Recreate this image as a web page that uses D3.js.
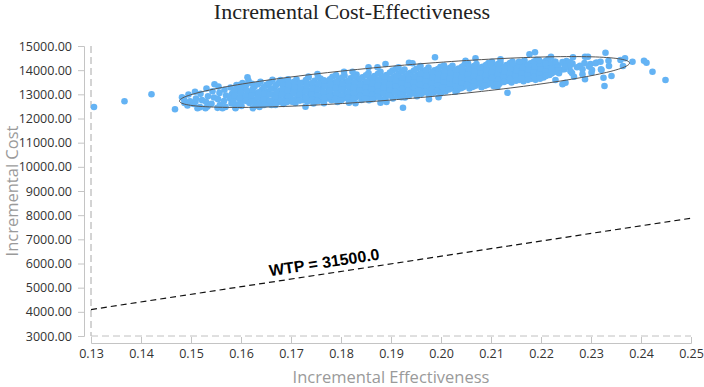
<!DOCTYPE html>
<html>
<head>
<meta charset="utf-8">
<script src="https://cdn.jsdelivr.net/npm/d3@7"></script>
<style>
  body { margin: 0; background: #fff; }
  svg { display: block; }
</style>
</head>
<body>
<div class="graph"></div>
<script>
// tick values
const xTicks = [0.13, 0.14, 0.15, 0.16, 0.17, 0.18, 0.19, 0.20, 0.21, 0.22, 0.23, 0.24, 0.25]
const yTicks = [3000, 4000, 5000, 6000, 7000, 8000, 9000, 10000, 11000, 12000, 13000, 14000, 15000]

const wtp = 31500

// confidence ellipse (data units)
const ellipseCenter = [0.1927, 13510]
const ellipseMajor = [0.0450, 786]
const ellipseMinorCost = 700

// dense part of the cloud
const corePoints = [
  [0.1482,12880],[0.1487,12640],[0.1495,12990],[0.1498,12710],[0.1493,12540],
  [0.1510,12830],[0.1505,12600],[0.1519,13020],[0.1522,12760],[0.1518,12470],
  [0.1531,13240],[0.1534,12920],[0.1530,12690],[0.1533,12500],[0.1543,13130],[0.1546,12870],[0.1541,12610],
  [0.1555,13320],[0.1557,13060],[0.1554,12800],[0.1558,12560],[0.1553,12440],
  [0.1567,13190],[0.1570,12950],[0.1566,12720],[0.1569,12480],[0.1579,13280],[0.1582,13020],[0.1578,12830],[0.1581,12620],
  [0.1591,13380],[0.1594,13140],[0.1590,12890],[0.1593,12560],[0.1589,12460],
  [0.1603,13470],[0.1606,13230],[0.1602,12980],[0.1605,12750],[0.1601,12520],
  [0.1615,13560],[0.1618,13090],[0.1614,12860],[0.1617,12640],[0.1627,13310],[0.1630,13040],[0.1626,12780],[0.1629,12530],
  [0.1639,13520],[0.1642,13190],[0.1638,12940],[0.1641,12700],[0.1637,12480],
  [0.1651,13390],[0.1654,13110],[0.1650,12850],[0.1653,12610],
  [0.1663,13600],[0.1666,13250],[0.1662,13000],[0.1665,12760],[0.1661,12560],
  [0.1675,13470],[0.1678,13160],[0.1674,12920],[0.1677,12680],
  [0.1687,13540],[0.1690,13300],[0.1686,13060],[0.1689,12820],[0.1685,12600],
  [0.1699,13420],[0.1702,13190],[0.1698,12950],[0.1701,12710],
  [0.1711,13620],[0.1714,13340],[0.1710,13100],[0.1713,12860],[0.1709,12640],
  [0.1723,13480],[0.1726,13230],[0.1722,12990],[0.1725,12760],
  [0.1735,13700],[0.1738,13420],[0.1734,13170],[0.1737,12930],[0.1733,12700],
  [0.1747,13560],[0.1750,13310],[0.1746,13070],[0.1749,12830],[0.1745,12620],
  [0.1759,13650],[0.1762,13400],[0.1758,13200],[0.1761,12960],[0.1757,12740],
  [0.1771,13520],[0.1774,13280],[0.1770,13050],[0.1773,12830],
  [0.1783,13730],[0.1786,13470],[0.1782,13230],[0.1785,12990],[0.1781,12760],
  [0.1795,13610],[0.1798,13370],[0.1794,13130],[0.1797,12890],[0.1793,12680],
  [0.1807,13780],[0.1810,13520],[0.1806,13280],[0.1809,13050],[0.1805,12830],
  [0.1819,13660],[0.1822,13420],[0.1818,13190],[0.1821,12950],[0.1817,12720],
  [0.1831,13820],[0.1834,13570],[0.1830,13330],[0.1833,13100],[0.1829,12870],
  [0.1843,13710],[0.1846,13460],[0.1842,13230],[0.1845,12990],[0.1841,12770],
  [0.1855,13880],[0.1858,13620],[0.1854,13380],[0.1857,13150],[0.1853,12920],[0.1856,12760],
  [0.1867,13760],[0.1870,13520],[0.1866,13290],[0.1869,13060],[0.1865,12840],
  [0.1879,13930],[0.1882,13670],[0.1878,13430],[0.1881,13200],[0.1877,12970],[0.1880,12780],
  [0.1891,13800],[0.1894,13560],[0.1890,13330],[0.1893,13100],[0.1889,12880],
  [0.1903,13980],[0.1906,13720],[0.1902,13480],[0.1905,13250],[0.1901,13020],[0.1904,12830],
  [0.1915,13850],[0.1918,13610],[0.1914,13380],[0.1917,13150],[0.1913,12930],
  [0.1927,14030],[0.1930,13760],[0.1926,13520],[0.1929,13290],[0.1925,13060],[0.1928,12870],
  [0.1939,13890],[0.1942,13650],[0.1938,13420],[0.1941,13190],[0.1937,12970],
  [0.1951,14060],[0.1954,13800],[0.1950,13560],[0.1953,13330],[0.1949,13100],[0.1952,12920],
  [0.1963,13940],[0.1966,13700],[0.1962,13470],[0.1965,13240],[0.1961,13020],
  [0.1975,14110],[0.1978,13850],[0.1974,13610],[0.1977,13380],[0.1973,13150],[0.1976,12970],
  [0.1987,13990],[0.1990,13750],[0.1986,13520],[0.1989,13290],[0.1985,13070],
  [0.1999,14140],[0.2002,13890],[0.1998,13660],[0.2001,13430],[0.1997,13210],[0.2000,13040],
  [0.2011,14030],[0.2014,13800],[0.2010,13570],[0.2013,13340],[0.2009,13120],
  [0.2023,14180],[0.2026,13930],[0.2022,13700],[0.2025,13470],[0.2021,13250],
  [0.2035,14070],[0.2038,13840],[0.2034,13610],[0.2037,13390],[0.2033,13180],
  [0.2047,14220],[0.2050,13970],[0.2046,13750],[0.2049,13520],[0.2045,13300],
  [0.2059,14100],[0.2062,13880],[0.2058,13660],[0.2061,13440],[0.2057,13240],
  [0.2071,14250],[0.2074,14010],[0.2070,13790],[0.2073,13570],[0.2069,13360],
  [0.2083,14140],[0.2086,13920],[0.2082,13700],[0.2085,13480],[0.2081,13290],
  [0.2095,14290],[0.2098,14040],[0.2094,13820],[0.2097,13600],[0.2093,13400],
  [0.2107,14170],[0.2110,13950],[0.2106,13730],[0.2109,13520],[0.2105,13350],
  [0.2119,14320],[0.2122,14080],[0.2118,13860],[0.2121,13640],[0.2117,13440],
  [0.2131,14210],[0.2134,13990],[0.2130,13770],[0.2133,13560],
  [0.2143,14360],[0.2146,14110],[0.2142,13890],[0.2145,13680],[0.2141,13490],
  [0.2155,14240],[0.2158,14020],[0.2154,13810],[0.2157,13600],
  [0.2167,14400],[0.2170,14150],[0.2166,13930],[0.2169,13720],[0.2165,13540],
  [0.2179,14280],[0.2182,14060],[0.2178,13850],[0.2181,13650],
  [0.2191,14430],[0.2194,14190],[0.2190,13970],[0.2193,13770],[0.2189,13600],
  [0.2203,14320],[0.2206,14100],[0.2202,13890],[0.2205,13700],
  [0.2215,14460],[0.2218,14230],[0.2214,14010],[0.2217,13800],
  [0.2227,14350],[0.2230,14130],[0.2226,13920],
  [0.2242,14030],[0.2251,14380],[0.2254,14150],[0.2263,14270],[0.2262,13880],
  [0.2278,14180],[0.2287,14290],[0.2302,14010],[0.2311,14320]
]

// more points filling between the columns above
const fillPoints = [
  [0.1586,13160],[0.1587,12940],[0.1585,12700],
  [0.1598,13290],[0.1599,13060],[0.1597,12820],[0.1598,12620],
  [0.1610,13380],[0.1611,13170],[0.1609,12930],[0.1610,12730],
  [0.1622,13440],[0.1623,13200],[0.1621,12950],[0.1622,12700],
  [0.1634,13420],[0.1635,13080],[0.1633,12860],[0.1634,12620],
  [0.1646,13300],[0.1647,13030],[0.1645,12780],[0.1646,12560],
  [0.1658,13490],[0.1659,13240],[0.1657,12990],[0.1658,12730],
  [0.1670,13380],[0.1671,13100],[0.1669,12850],[0.1670,12640],
  [0.1682,13420],[0.1683,13190],[0.1681,12980],[0.1682,12740],
  [0.1694,13620],[0.1695,13380],[0.1693,13140],[0.1694,12890],[0.1692,12680],
  [0.1706,13520],[0.1707,13290],[0.1705,13060],[0.1706,12790],
  [0.1718,13470],[0.1719,13220],[0.1717,12980],[0.1718,12740],
  [0.1730,13590],[0.1731,13350],[0.1729,13110],[0.1730,12870],
  [0.1742,13470],[0.1743,13240],[0.1741,13000],[0.1742,12770],
  [0.1754,13720],[0.1755,13450],[0.1753,13180],[0.1754,12950],[0.1752,12720],
  [0.1766,13580],[0.1767,13330],[0.1765,13090],[0.1766,12860],
  [0.1778,13620],[0.1779,13390],[0.1777,13150],[0.1778,12920],
  [0.1790,13800],[0.1791,13520],[0.1789,13260],[0.1790,13020],[0.1788,12800],
  [0.1802,13690],[0.1803,13450],[0.1801,13200],[0.1802,12960],[0.1800,12740],
  [0.1814,13550],[0.1815,13310],[0.1813,13070],[0.1814,12850],
  [0.1826,13750],[0.1827,13500],[0.1825,13270],[0.1826,13040],[0.1824,12800],
  [0.1838,13640],[0.1839,13400],[0.1837,13160],[0.1838,12930],
  [0.1850,13790],[0.1851,13530],[0.1849,13290],[0.1850,13050],[0.1848,12830],
  [0.1862,13680],[0.1863,13440],[0.1861,13210],[0.1862,12970],
  [0.1874,13850],[0.1875,13590],[0.1873,13350],[0.1874,13110],[0.1872,12900],
  [0.1886,13740],[0.1887,13500],[0.1885,13270],[0.1886,13030],
  [0.1898,13900],[0.1899,13640],[0.1897,13400],[0.1898,13170],[0.1896,12950],
  [0.1910,14060],[0.1911,13780],[0.1909,13550],[0.1910,13320],[0.1908,13090],
  [0.1922,13940],[0.1923,13690],[0.1921,13450],[0.1922,13220],[0.1920,13000],
  [0.1934,13830],[0.1935,13600],[0.1933,13370],[0.1934,13140],
  [0.1946,13980],[0.1947,13730],[0.1945,13490],[0.1946,13260],[0.1944,13040],
  [0.1958,14120],[0.1959,13860],[0.1957,13620],[0.1958,13390],[0.1956,13160],
  [0.1970,14000],[0.1971,13770],[0.1969,13530],[0.1970,13300],[0.1968,13090],
  [0.1982,13910],[0.1983,13680],[0.1981,13450],[0.1982,13220],
  [0.1994,14050],[0.1995,13820],[0.1993,13590],[0.1994,13360],[0.1992,13140],
  [0.2006,14190],[0.2007,13960],[0.2005,13730],[0.2006,13500],[0.2004,13280],
  [0.2018,14100],[0.2019,13870],[0.2017,13640],[0.2018,13420],[0.2016,13200],
  [0.2030,14000],[0.2031,13780],[0.2029,13560],[0.2030,13330],
  [0.2042,14140],[0.2043,13910],[0.2041,13680],[0.2042,13460],[0.2040,13250],
  [0.2054,14280],[0.2055,14040],[0.2053,13820],[0.2054,13600],[0.2052,13380],
  [0.2066,14170],[0.2067,13950],[0.2065,13730],[0.2066,13510],[0.2064,13310],
  [0.2078,14090],[0.2079,13870],[0.2077,13650],[0.2078,13440],
  [0.2090,14210],[0.2091,13990],[0.2089,13770],[0.2090,13550],[0.2088,13360],
  [0.2102,14350],[0.2103,14110],[0.2101,13890],[0.2102,13670],[0.2100,13460],
  [0.2114,14250],[0.2115,14020],[0.2113,13800],[0.2114,13590],[0.2112,13400],
  [0.2126,14130],[0.2127,13920],[0.2125,13710],[0.2126,13510],
  [0.2138,14290],[0.2139,14060],[0.2137,13840],[0.2138,13630],
  [0.2150,14180],[0.2151,13960],[0.2149,13750],[0.2150,13560],
  [0.2162,14330],[0.2163,14090],[0.2161,13870],[0.2162,13660],
  [0.2174,14220],[0.2175,14000],[0.2173,13790],[0.2174,13600],
  [0.2186,14360],[0.2187,14130],[0.2185,13910],[0.2186,13720],
  [0.2198,14250],[0.2199,14040],[0.2197,13830],[0.2198,13650],
  [0.2210,14390],[0.2211,14160],[0.2209,13950],[0.2210,13760],
  [0.2222,14280],[0.2223,14070],[0.2221,13860],
  [0.2234,14200],[0.2235,13990],[0.2246,14270],[0.2247,14040],[0.2258,14330],[0.2259,13960]
]

// scattered points near and outside the edge
const edgePoints = [
  [0.1306,12476],[0.1367,12712],[0.1421,13002],[0.1468,12381],[0.1508,13109],[0.1547,13415],
  [0.1613,13705],[0.1486,12795],[0.1509,12695],[0.1513,12422],[0.1529,12422],[0.1563,12422],
  [0.1589,12422],[0.1596,13386],[0.1624,12422],[0.1669,12559],[0.1729,12489],[0.1766,12629],
  [0.1703,12695],[0.1753,13842],[0.1806,13937],[0.1735,13731],[0.1679,13593],[0.1656,13457],
  [0.1816,12654],[0.1829,12629],[0.1863,12795],[0.1879,12654],[0.1891,12683],[0.1921,12877],
  [0.1924,12447],[0.1976,12795],[0.1995,12877],[0.1988,14533],[0.1936,14309],[0.1943,14285],
  [0.1889,14255],[0.1873,14119],[0.1855,14119],[0.1823,13937],[0.1915,14119],[0.1959,14173],
  [0.2177,14657],[0.2188,14740],[0.2119,14450],[0.2069,14491],[0.2049,14392],[0.2133,13068],
  [0.2113,13316],[0.2029,13109],[0.2196,14421],[0.2209,14284],[0.2156,14351],[0.2143,14284],
  [0.2099,14284],[0.2220,14558],[0.2229,14351],[0.2243,14338],[0.2249,14144],[0.2259,14214],
  [0.2264,14533],[0.2272,14119],[0.2283,14036],[0.2288,14558],[0.2294,14558],[0.2299,14255],
  [0.2309,14285],[0.2319,14351],[0.2329,14723],[0.2335,14392],[0.2321,14007],[0.2301,13896],
  [0.2283,13829],[0.2266,13730],[0.2249,13482],[0.2243,13416],[0.2229,13593],[0.2221,14007],
  [0.2236,13871],[0.2296,14147],[0.2288,13622],[0.2325,13689],[0.2327,13345],[0.2341,13759],
  [0.2359,14421],[0.2368,14491],[0.2364,14173],[0.2383,14351],[0.2406,14392],[0.2411,14309],
  [0.2423,13937],[0.2449,13593],[0.2320,14036],[0.2336,14173]
]

const width = 704
const height = 387
const margin = ({top: 46, right: 13, bottom: 51, left: 91})

const x = d3.scaleLinear()
  .domain([0.13, 0.25])
  .range([margin.left, width - margin.right])

const y = d3.scaleLinear()
  .domain([3000, 15000])
  .range([height - margin.bottom, margin.top])

const svg = d3.select(".graph").append("svg")
  .attr("width", width)
  .attr("height", height)

const tickFont = "'Open Sans', 'Noto Sans', sans-serif"

// title
svg.append("text")
  .attr("x", width / 2)
  .attr("y", 19)
  .attr("text-anchor", "middle")
  .attr("font-family", "'Liberation Serif', 'Times New Roman', serif")
  .attr("font-size", 22)
  .attr("fill", "#222")
  .text("Incremental Cost-Effectiveness")

// y axis, set a bit left of the plot
const yAxis = g => g
  .attr("transform", `translate(${margin.left - 7},0)`)
  .call(d3.axisLeft(y).tickValues(yTicks).tickFormat(d3.format(".2f")).tickSizeOuter(0).tickSize(6).tickPadding(6))
  .call(g => g.selectAll("line, path").attr("stroke", "#c4c4c4"))
  .call(g => g.selectAll("text").attr("font-family", tickFont).attr("font-size", 12.5).attr("fill", "#333"))

// x axis, set a bit below the plot
const xAxis = g => g
  .attr("transform", `translate(0,${height - margin.bottom + 7})`)
  .call(d3.axisBottom(x).tickValues(xTicks).tickFormat(d3.format(".2f")).tickSizeOuter(0).tickSize(-6).tickPadding(6))
  .call(g => g.selectAll("line, path").attr("stroke", "#c4c4c4"))
  .call(g => g.selectAll("text").attr("font-family", tickFont).attr("font-size", 12.5).attr("fill", "#333"))

svg.append("g").call(yAxis)
svg.append("g").call(xAxis)

svg.append("text")
  .attr("transform", `translate(18,${(y(3000) + y(15000)) / 2}) rotate(-90)`)
  .attr("text-anchor", "middle")
  .attr("font-family", tickFont)
  .attr("font-size", 16.5)
  .attr("fill", "#9a9a9a")
  .text("Incremental Cost")

svg.append("text")
  .attr("x", (x(0.13) + x(0.25)) / 2)
  .attr("y", 383)
  .attr("text-anchor", "middle")
  .attr("font-family", tickFont)
  .attr("font-size", 16.5)
  .attr("fill", "#9a9a9a")
  .text("Incremental Effectiveness")

// dashed origin lines
svg.append("line")
  .attr("x1", x(0.13)).attr("x2", x(0.13))
  .attr("y1", y(15000)).attr("y2", y(3000))
  .attr("stroke", "#a8a8a8").attr("stroke-dasharray", "7,4")
svg.append("line")
  .attr("x1", x(0.13)).attr("x2", x(0.25))
  .attr("y1", y(3000)).attr("y2", y(3000))
  .attr("stroke", "#c0c0c0").attr("stroke-dasharray", "7,4")

// WTP line
const wtpLine = d3.line()
  .x(d => x(d))
  .y(d => y(d * wtp))
svg.append("path")
  .datum(x.domain())
  .attr("fill", "none")
  .attr("stroke", "#111")
  .attr("stroke-width", 1.2)
  .attr("stroke-dasharray", "6,4")
  .attr("d", wtpLine)

const angle = Math.atan2(y(0.25 * wtp) - y(0.13 * wtp), x(0.25) - x(0.13)) * 180 / Math.PI
const labelX = 0.177
svg.append("text")
  .attr("transform", `translate(${x(labelX)},${y(labelX * wtp)}) rotate(${angle})`)
  .attr("y", -6)
  .attr("text-anchor", "middle")
  .attr("font-family", "'Liberation Sans', Arial, sans-serif")
  .attr("font-weight", "bold")
  .attr("font-size", 16)
  .attr("fill", "#000")
  .text("WTP = " + wtp.toFixed(1))

// scatter
svg.append("g")
  .selectAll("circle")
  .data(corePoints.concat(fillPoints, edgePoints))
  .join("circle")
  .attr("cx", d => x(d[0]))
  .attr("cy", d => y(d[1]))
  .attr("r", 3.3)
  .attr("fill", "#64b3f4")

// ellipse on top of the points
const ellipseSteps = d3.range(0, 2 * Math.PI, Math.PI / 90)
const ellipseLine = d3.line()
  .x(t => x(ellipseCenter[0] + Math.cos(t) * ellipseMajor[0]))
  .y(t => y(ellipseCenter[1] + Math.cos(t) * ellipseMajor[1] + Math.sin(t) * ellipseMinorCost))
  .curve(d3.curveLinearClosed)
svg.append("path")
  .datum(ellipseSteps)
  .attr("fill", "none")
  .attr("stroke", "#555")
  .attr("stroke-width", 1)
  .attr("d", ellipseLine)
</script>
</body>
</html>
